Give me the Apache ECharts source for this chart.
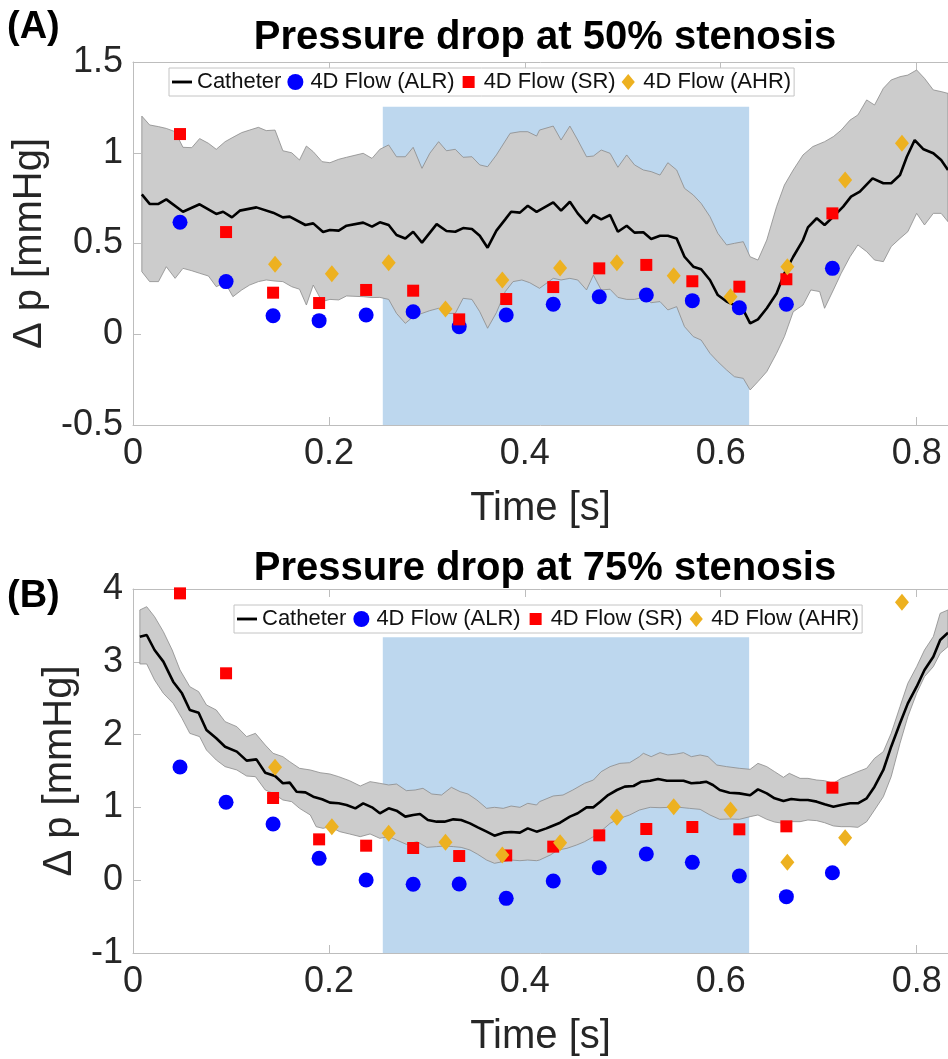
<!DOCTYPE html>
<html><head><meta charset="utf-8">
<script src="https://cdn.jsdelivr.net/npm/echarts@6/dist/echarts.min.js"></script>
<style>html,body{margin:0;padding:0;background:#fff}#c{width:948px;height:1059px}</style>
</head><body><div id="c"></div>
<script>
// ---------------- DATA ----------------
const titles = ['Pressure drop at 50% stenosis', 'Pressure drop at 75% stenosis'];
const panelLabels = ['(A)', '(B)'];
const legendNames = ['Catheter', '4D Flow (ALR)', '4D Flow (SR)', '4D Flow (AHR)'];
const xTicks = [0, 0.2, 0.4, 0.6, 0.8];
const yTicks50 = [-0.5, 0, 0.5, 1, 1.5];
const yTicks75 = [-1, 0, 1, 2, 3, 4];
const phaseRange = [0.255, 0.629];          // shaded (blue) time window
const phaseTop = [1.254, 3.336];            // top of shaded window per panel

const scatterTime = [0.048,0.095,0.143,0.190,0.238,0.286,0.333,0.381,0.429,0.476,0.524,0.571,0.619,0.667,0.714];
const ahrTime = [0.145,0.203,0.261,0.319,0.377,0.436,0.494,0.552,0.610,0.668,0.727,0.785];

const alr50 = [0.617,0.290,0.102,0.075,0.106,0.124,0.042,0.106,0.165,0.207,0.216,0.185,0.146,0.165,0.363];
const sr50  = [1.103,0.563,0.229,0.172,0.244,0.240,0.082,0.194,0.260,0.363,0.382,0.292,0.262,0.303,0.666];
const ahr50 = [0.385,0.334,0.394,0.139,0.299,0.365,0.394,0.323,0.207,0.372,0.850,1.052];

const alr75 = [1.555,1.070,0.772,0.300,0.003,-0.056,-0.052,-0.249,-0.011,0.172,0.360,0.245,0.058,-0.226,0.103];
const sr75  = [3.940,2.842,1.129,0.561,0.474,0.442,0.332,0.340,0.461,0.616,0.703,0.731,0.699,0.740,1.271];
const ahr75 = [1.550,0.735,0.644,0.520,0.346,0.515,0.864,1.010,0.964,0.245,0.584,3.817];

const cath50 = [[0.009,0.771],[0.017,0.718],[0.026,0.718],[0.034,0.743],[0.051,0.675],[0.068,0.716],[0.085,0.663],[0.092,0.675],[0.101,0.644],[0.109,0.681],[0.126,0.699],[0.143,0.670],[0.153,0.644],[0.160,0.648],[0.176,0.602],[0.184,0.611],[0.194,0.563],[0.201,0.574],[0.210,0.571],[0.218,0.598],[0.235,0.615],[0.244,0.593],[0.252,0.617],[0.261,0.602],[0.269,0.547],[0.278,0.528],[0.286,0.565],[0.295,0.505],[0.310,0.607],[0.320,0.569],[0.329,0.565],[0.337,0.585],[0.346,0.580],[0.354,0.543],[0.362,0.477],[0.371,0.571],[0.380,0.633],[0.386,0.675],[0.395,0.670],[0.403,0.708],[0.412,0.674],[0.429,0.727],[0.437,0.681],[0.446,0.730],[0.454,0.666],[0.463,0.611],[0.470,0.657],[0.478,0.633],[0.487,0.657],[0.495,0.565],[0.504,0.598],[0.512,0.560],[0.521,0.562],[0.529,0.525],[0.538,0.543],[0.546,0.543],[0.555,0.528],[0.563,0.427],[0.572,0.372],[0.580,0.358],[0.589,0.299],[0.597,0.216],[0.606,0.180],[0.614,0.161],[0.623,0.134],[0.630,0.060],[0.638,0.082],[0.647,0.143],[0.657,0.225],[0.665,0.336],[0.674,0.427],[0.684,0.519],[0.689,0.589],[0.698,0.639],[0.706,0.602],[0.715,0.648],[0.725,0.703],[0.733,0.758],[0.742,0.786],[0.755,0.859],[0.766,0.832],[0.774,0.832],[0.783,0.877],[0.790,0.978],[0.798,1.070],[0.807,1.019],[0.817,0.997],[0.825,0.960],[0.832,0.905]];

const band50Up = [[0.009,1.202],[0.017,1.153],[0.026,1.144],[0.034,1.134],[0.043,1.116],[0.051,1.030],[0.060,1.028],[0.068,1.078],[0.077,1.052],[0.085,1.019],[0.094,1.061],[0.102,1.085],[0.111,1.111],[0.119,1.125],[0.128,1.140],[0.136,1.122],[0.145,1.125],[0.153,1.011],[0.162,1.000],[0.170,0.960],[0.177,1.037],[0.184,1.006],[0.193,0.951],[0.201,0.945],[0.210,0.964],[0.218,0.975],[0.235,0.997],[0.244,0.969],[0.252,1.019],[0.261,1.043],[0.269,0.978],[0.278,0.978],[0.286,1.030],[0.295,0.914],[0.303,0.997],[0.312,1.061],[0.320,1.011],[0.329,1.019],[0.337,0.975],[0.346,0.978],[0.354,0.933],[0.362,0.923],[0.371,0.988],[0.385,1.107],[0.395,1.116],[0.403,1.116],[0.412,1.092],[0.415,1.125],[0.429,1.147],[0.437,1.070],[0.446,1.147],[0.454,1.070],[0.463,0.978],[0.470,0.982],[0.478,1.015],[0.487,0.997],[0.495,0.920],[0.504,0.988],[0.512,0.933],[0.521,0.905],[0.529,0.896],[0.538,0.877],[0.546,0.945],[0.555,0.905],[0.563,0.804],[0.572,0.767],[0.580,0.721],[0.589,0.648],[0.597,0.556],[0.606,0.492],[0.614,0.501],[0.623,0.510],[0.630,0.427],[0.638,0.409],[0.647,0.519],[0.657,0.703],[0.665,0.822],[0.674,0.905],[0.684,0.988],[0.694,1.034],[0.706,1.061],[0.715,1.089],[0.723,1.125],[0.732,1.180],[0.740,1.208],[0.749,1.291],[0.757,1.263],[0.766,1.355],[0.774,1.401],[0.783,1.419],[0.791,1.428],[0.800,1.456],[0.808,1.410],[0.817,1.346],[0.825,1.337],[0.832,1.327]];

const band50Lo = [[0.009,0.345],[0.017,0.290],[0.026,0.290],[0.034,0.372],[0.043,0.308],[0.051,0.363],[0.060,0.350],[0.068,0.336],[0.077,0.321],[0.085,0.262],[0.094,0.284],[0.102,0.207],[0.111,0.244],[0.119,0.271],[0.128,0.290],[0.136,0.299],[0.145,0.293],[0.153,0.290],[0.162,0.262],[0.170,0.248],[0.177,0.161],[0.184,0.271],[0.193,0.180],[0.201,0.192],[0.210,0.189],[0.218,0.211],[0.235,0.207],[0.244,0.202],[0.252,0.203],[0.261,0.192],[0.269,0.115],[0.278,0.060],[0.286,0.097],[0.295,0.115],[0.303,0.130],[0.312,0.143],[0.320,0.115],[0.329,0.115],[0.337,0.198],[0.346,0.192],[0.354,0.124],[0.362,0.033],[0.371,0.119],[0.380,0.235],[0.388,0.290],[0.397,0.299],[0.405,0.284],[0.415,0.253],[0.429,0.308],[0.437,0.299],[0.446,0.308],[0.454,0.299],[0.463,0.244],[0.470,0.326],[0.478,0.244],[0.487,0.248],[0.495,0.203],[0.504,0.192],[0.512,0.192],[0.521,0.203],[0.529,0.174],[0.538,0.180],[0.546,0.134],[0.555,0.152],[0.563,0.042],[0.572,-0.013],[0.580,-0.032],[0.589,-0.105],[0.597,-0.151],[0.606,-0.197],[0.614,-0.234],[0.623,-0.243],[0.630,-0.307],[0.638,-0.261],[0.647,-0.206],[0.657,-0.105],[0.665,-0.013],[0.674,0.124],[0.684,0.161],[0.692,0.244],[0.701,0.235],[0.706,0.143],[0.715,0.244],[0.723,0.336],[0.732,0.427],[0.740,0.492],[0.749,0.455],[0.757,0.409],[0.766,0.400],[0.774,0.483],[0.783,0.528],[0.791,0.565],[0.800,0.666],[0.808,0.602],[0.817,0.666],[0.825,0.666],[0.832,0.620]];

const cath75 = [[0.007,3.345],[0.014,3.368],[0.022,3.162],[0.031,3.002],[0.041,2.727],[0.050,2.567],[0.058,2.338],[0.067,2.301],[0.075,2.063],[0.085,1.949],[0.094,1.834],[0.106,1.766],[0.116,1.642],[0.126,1.660],[0.135,1.477],[0.145,1.431],[0.153,1.331],[0.160,1.340],[0.167,1.216],[0.176,1.207],[0.184,1.147],[0.193,1.111],[0.201,1.065],[0.210,1.056],[0.218,1.033],[0.227,0.987],[0.235,1.056],[0.244,1.001],[0.252,0.919],[0.261,0.987],[0.269,0.955],[0.278,0.873],[0.286,0.896],[0.293,0.909],[0.301,0.827],[0.310,0.804],[0.318,0.804],[0.327,0.836],[0.335,0.827],[0.344,0.781],[0.352,0.726],[0.361,0.667],[0.369,0.612],[0.378,0.653],[0.386,0.662],[0.395,0.653],[0.403,0.712],[0.412,0.667],[0.422,0.712],[0.426,0.735],[0.436,0.790],[0.446,0.873],[0.454,0.919],[0.463,1.001],[0.470,1.001],[0.477,1.079],[0.485,1.170],[0.494,1.239],[0.502,1.285],[0.511,1.294],[0.519,1.353],[0.528,1.367],[0.536,1.390],[0.545,1.367],[0.553,1.367],[0.562,1.367],[0.570,1.331],[0.579,1.340],[0.585,1.353],[0.592,1.308],[0.599,1.239],[0.609,1.202],[0.619,1.193],[0.630,1.166],[0.638,1.248],[0.647,1.193],[0.655,1.125],[0.664,1.088],[0.672,1.115],[0.681,1.102],[0.689,1.102],[0.698,1.079],[0.706,1.042],[0.715,1.010],[0.723,1.033],[0.732,1.056],[0.740,1.056],[0.749,1.125],[0.757,1.285],[0.766,1.514],[0.774,1.834],[0.783,2.155],[0.791,2.429],[0.800,2.658],[0.808,2.887],[0.817,3.070],[0.824,3.299],[0.832,3.400]];

const band75Up = [[0.007,3.712],[0.014,3.757],[0.022,3.620],[0.031,3.414],[0.040,3.162],[0.048,2.887],[0.058,2.658],[0.067,2.590],[0.075,2.407],[0.085,2.338],[0.094,2.178],[0.106,2.109],[0.116,1.972],[0.125,2.017],[0.135,1.857],[0.143,1.743],[0.153,1.697],[0.160,1.628],[0.170,1.537],[0.181,1.514],[0.191,1.477],[0.201,1.459],[0.210,1.422],[0.221,1.367],[0.232,1.294],[0.242,1.354],[0.252,1.331],[0.261,1.308],[0.269,1.321],[0.279,1.230],[0.288,1.239],[0.296,1.262],[0.305,1.184],[0.315,1.170],[0.325,1.276],[0.334,1.216],[0.342,1.184],[0.351,1.102],[0.361,0.987],[0.369,1.001],[0.378,0.987],[0.386,1.019],[0.395,1.001],[0.403,1.056],[0.412,1.033],[0.415,1.079],[0.429,1.157],[0.439,1.170],[0.449,1.239],[0.461,1.331],[0.470,1.376],[0.478,1.491],[0.487,1.560],[0.497,1.605],[0.507,1.614],[0.517,1.697],[0.521,1.743],[0.529,1.697],[0.538,1.752],[0.546,1.720],[0.555,1.734],[0.562,1.752],[0.570,1.697],[0.579,1.720],[0.587,1.697],[0.596,1.582],[0.606,1.560],[0.619,1.537],[0.630,1.523],[0.638,1.605],[0.647,1.560],[0.655,1.491],[0.664,1.413],[0.670,1.468],[0.681,1.399],[0.689,1.399],[0.698,1.376],[0.706,1.367],[0.715,1.331],[0.723,1.399],[0.732,1.445],[0.740,1.491],[0.749,1.537],[0.757,1.674],[0.766,1.766],[0.774,2.017],[0.783,2.384],[0.791,2.704],[0.800,2.933],[0.808,3.162],[0.817,3.345],[0.824,3.666],[0.832,3.712]];

const band75Lo = [[0.007,2.970],[0.014,2.970],[0.022,2.750],[0.031,2.567],[0.041,2.429],[0.050,2.223],[0.058,2.017],[0.068,1.972],[0.075,1.788],[0.085,1.651],[0.094,1.560],[0.106,1.514],[0.116,1.431],[0.125,1.422],[0.135,1.239],[0.143,1.193],[0.153,1.102],[0.162,1.079],[0.170,0.987],[0.181,0.896],[0.187,0.735],[0.194,0.712],[0.201,0.735],[0.211,0.667],[0.221,0.635],[0.232,0.598],[0.242,0.635],[0.252,0.575],[0.261,0.598],[0.269,0.552],[0.279,0.493],[0.290,0.529],[0.300,0.451],[0.310,0.461],[0.318,0.470],[0.327,0.461],[0.335,0.451],[0.344,0.415],[0.352,0.355],[0.361,0.277],[0.369,0.232],[0.378,0.255],[0.386,0.277],[0.395,0.268],[0.403,0.277],[0.412,0.268],[0.415,0.277],[0.426,0.346],[0.434,0.415],[0.443,0.438],[0.453,0.484],[0.461,0.529],[0.470,0.598],[0.478,0.676],[0.487,0.781],[0.497,0.850],[0.507,0.896],[0.517,0.964],[0.528,1.001],[0.538,0.996],[0.548,1.001],[0.558,1.001],[0.568,0.987],[0.579,0.973],[0.589,0.896],[0.599,0.836],[0.609,0.841],[0.619,0.836],[0.630,0.873],[0.638,0.896],[0.647,0.836],[0.655,0.799],[0.664,0.781],[0.672,0.804],[0.681,0.804],[0.689,0.827],[0.698,0.818],[0.706,0.790],[0.715,0.745],[0.723,0.735],[0.732,0.735],[0.740,0.726],[0.749,0.804],[0.757,0.964],[0.766,1.147],[0.774,1.422],[0.783,1.880],[0.791,2.246],[0.800,2.567],[0.808,2.796],[0.817,2.933],[0.824,3.116],[0.832,3.208]];

// ---------------- CHART ----------------
const FONT = '"Liberation Sans", Arial, Helvetica, sans-serif';
const AX = '#bdbdbd', TXT = '#262626';
const X_MAX = 0.832;

const legendIcons = [
  'path://M0,0H21V3H0Z',
  'circle',
  'path://M0,0h0.05v0.05h-0.05z M2,2h12v12h-12z M15.95,15.95h0.05v0.05h-0.05z',
  'path://M7,0L14,8.5L7,17L0,8.5Z'
];

const panels = [
  {cath: cath50, up: band50Up, lo: band50Lo, alr: alr50, sr: sr50, ahr: ahr50, yTicks: yTicks50, grid:{left:133, top:62, width:815, height:363}, legend:{left:169, top:68}, nameGap:67, title:{y:38}, label:{y:28}},
  {cath: cath75, up: band75Up, lo: band75Lo, alr: alr75, sr: sr75, ahr: ahr75, yTicks: yTicks75, grid:{left:133, top:589, width:815, height:364}, legend:{left:234, top:605}, nameGap:38, title:{y:569}, label:{y:597}}
];

const zip = (xs, ys) => xs.map((x, i) => [x, ys[i]]);
const xFmt = v => xTicks.some(t => Math.abs(t - v) < 1e-6) ? String(+v.toFixed(1)) : '';

const grid = [], xAxis = [], yAxis = [], series = [], legend = [], graphic = [];
panels.forEach((p, g) => {
  grid.push(Object.assign({containLabel:false, outerBoundsMode:'none'}, p.grid));
  const yMin = p.yTicks[0], yMax = p.yTicks[p.yTicks.length - 1];
  const yInt = p.yTicks[1] - p.yTicks[0];
  xAxis.push({
    gridIndex:g, type:'value', min:0, max:X_MAX, interval:0.2, position:'bottom',
    axisLine:{show:true, onZero:false, lineStyle:{color:AX, width:1}},
    axisTick:{show:true, inside:true, length:8, lineStyle:{color:AX}},
    axisLabel:{show:true, fontSize:36, color:TXT, fontFamily:FONT, margin:11, formatter:xFmt, showMaxLabel:false},
    splitLine:{show:false},
    name:'Time [s]', nameLocation:'middle', nameGap:64,
    nameTextStyle:{fontSize:40, color:TXT, fontFamily:FONT}
  });
  xAxis.push({
    gridIndex:g, type:'value', min:0, max:X_MAX, interval:0.2, position:'top',
    axisLine:{show:true, onZero:false, lineStyle:{color:AX, width:1}},
    axisTick:{show:true, inside:true, length:8, lineStyle:{color:AX}},
    axisLabel:{show:false}, splitLine:{show:false}
  });
  yAxis.push({
    gridIndex:g, type:'value', min:yMin, max:yMax, interval:yInt,
    axisLine:{show:true, onZero:false, lineStyle:{color:AX, width:1}},
    axisTick:{show:true, inside:true, length:8, lineStyle:{color:AX}},
    axisLabel:{fontSize:36, color:TXT, fontFamily:FONT, margin:10},
    splitLine:{show:false},
    name:'Δ p [mmHg]', nameLocation:'middle', nameRotate:90, nameGap:p.nameGap,
    nameTextStyle:{fontSize:40, color:TXT, fontFamily:FONT}
  });
  const xi = g * 2, yi = g;
  series.push({
    type:'custom', xAxisIndex:xi, yAxisIndex:yi, z:1, silent:true, clip:true,
    data:[[0.4, 0]],
    renderItem:function(params, api){
      const a = api.coord([phaseRange[0], phaseTop[g]]);
      const b = api.coord([phaseRange[1], yMin]);
      return {type:'rect', shape:{x:a[0], y:a[1], width:b[0]-a[0], height:b[1]-a[1]}, style:{fill:'#bdd7ee'}};
    }
  });
  series.push({
    type:'custom', xAxisIndex:xi, yAxisIndex:yi, z:2, silent:true, clip:true,
    data:[[0.4, 0]],
    renderItem:function(params, api){
      const pts = p.up.map(q => api.coord(q)).concat(p.lo.slice().reverse().map(q => api.coord(q)));
      return {type:'polygon', shape:{points:pts}, style:{fill:'#cccccc', stroke:'#8a8a8a', lineWidth:0.8}};
    }
  });
  series.push({
    name:'Catheter', type:'line', xAxisIndex:xi, yAxisIndex:yi, z:3, data:p.cath,
    symbol:'none', lineStyle:{color:'#000', width:2.6}, itemStyle:{color:'#000'}, clip:true
  });
  series.push({
    name:'4D Flow (ALR)', type:'scatter', xAxisIndex:xi, yAxisIndex:yi, z:4,
    data:zip(scatterTime, p.alr), symbol:'circle', symbolSize:15, itemStyle:{color:'#0000ff', opacity:1}
  });
  series.push({
    name:'4D Flow (SR)', type:'scatter', xAxisIndex:xi, yAxisIndex:yi, z:4,
    data:zip(scatterTime, p.sr), symbol:'rect', symbolSize:12, itemStyle:{color:'#ff0000', opacity:1}
  });
  series.push({
    name:'4D Flow (AHR)', type:'scatter', xAxisIndex:xi, yAxisIndex:yi, z:4,
    data:zip(ahrTime, p.ahr), symbol:'diamond', symbolSize:[14,17], itemStyle:{color:'#edb120', opacity:1}
  });
  legend.push({
    left:p.legend.left, top:p.legend.top, orient:'horizontal', z:10,
    data:legendNames.map((n, i) => ({name:n, icon:legendIcons[i]})),
    selectedMode:false, symbolKeepAspect:true,
    itemWidth:20, itemHeight:16, itemGap:6 + g, padding:[3,3,3,3],
    backgroundColor:'#ffffff', borderColor:'#c4c4c4', borderWidth:1, borderRadius:0,
    textStyle:{fontSize:22, color:'#111', fontFamily:FONT}
  });
  graphic.push({
    type:'text', x:545, y:p.title.y, z:20,
    style:{text:titles[g], fontSize:40, fontWeight:'bold', fontFamily:FONT, fill:'#000',
           align:'center', verticalAlign:'middle', textAlign:'center', textVerticalAlign:'middle'}
  });
  graphic.push({
    type:'text', x:7, y:p.label.y, z:20,
    style:{text:panelLabels[g], fontSize:38, fontWeight:'bold', fontFamily:FONT, fill:'#000',
           align:'left', verticalAlign:'middle', textAlign:'left', textVerticalAlign:'middle'}
  });
});

const chart = echarts.init(document.getElementById('c'), null, {renderer:'canvas', width:948, height:1059});
chart.setOption({
  animation:false,
  backgroundColor:'#ffffff',
  textStyle:{fontFamily:FONT},
  grid, xAxis, yAxis, series, legend, graphic
});
</script>
</body></html>
